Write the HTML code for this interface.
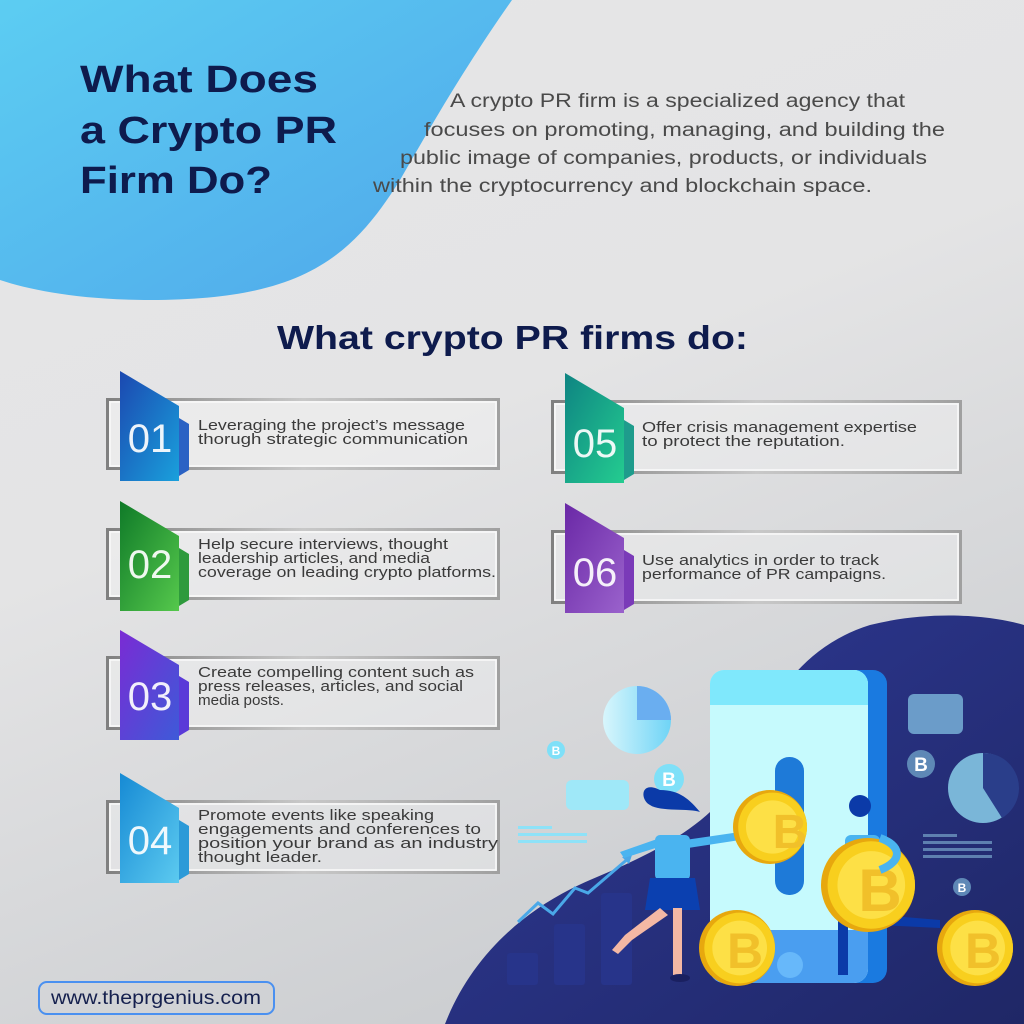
<!DOCTYPE html>
<html><head><meta charset="utf-8"><style>
html,body{margin:0;padding:0;width:1024px;height:1024px;overflow:hidden;}
svg{display:block}
text{font-family:"Liberation Sans",sans-serif}
</style></head><body>
<svg width="1024" height="1024" viewBox="0 0 1024 1024" xmlns="http://www.w3.org/2000/svg">
<defs>
<linearGradient id="bg" x1="0" y1="0" x2="0.4" y2="1">
<stop offset="0" stop-color="#e6e6e7"/><stop offset="0.5" stop-color="#e4e4e5"/><stop offset="1" stop-color="#cdcfd2"/></linearGradient>
<linearGradient id="blob" x1="0" y1="0" x2="1" y2="1">
<stop offset="0" stop-color="#5ccdf2"/><stop offset="1" stop-color="#4fa6ea"/></linearGradient>
<linearGradient id="dark" x1="0" y1="0" x2="1" y2="1">
<stop offset="0" stop-color="#2f3a98"/><stop offset="1" stop-color="#1f2766"/></linearGradient>
<linearGradient id="g1" x1="0" y1="0" x2="1" y2="1"><stop offset="0" stop-color="#1b48b0"/><stop offset="1" stop-color="#1aa0dc"/></linearGradient>
<linearGradient id="g2" x1="0" y1="0" x2="1" y2="1"><stop offset="0" stop-color="#0f7a28"/><stop offset="1" stop-color="#55c84c"/></linearGradient>
<linearGradient id="g3" x1="0" y1="0" x2="1" y2="1"><stop offset="0" stop-color="#7a2bd4"/><stop offset="1" stop-color="#3e5ad8"/></linearGradient>
<linearGradient id="g4" x1="0" y1="0" x2="1" y2="1"><stop offset="0" stop-color="#168ad4"/><stop offset="1" stop-color="#5ccaf0"/></linearGradient>
<linearGradient id="g5" x1="0" y1="0" x2="1" y2="1"><stop offset="0" stop-color="#0e8482"/><stop offset="1" stop-color="#24cc90"/></linearGradient>
<linearGradient id="g6" x1="0" y1="0" x2="1" y2="1"><stop offset="0" stop-color="#6a28a6"/><stop offset="1" stop-color="#9a62cc"/></linearGradient>
<linearGradient id="frame" x1="0" y1="0" x2="1" y2="0"><stop offset="0" stop-color="#808080"/><stop offset="0.5" stop-color="#c8c8c8"/><stop offset="1" stop-color="#a0a0a0"/></linearGradient>
<linearGradient id="pie" x1="0" y1="0" x2="1" y2="0"><stop offset="0" stop-color="#d8f6fc"/><stop offset="1" stop-color="#6fd4f6"/></linearGradient>
<g id="coin"><circle r="1" fill="#e7a80e"/><circle cx="0.07" r="0.93" fill="#f8cf1e"/><circle cx="0.07" r="0.72" fill="#fde046"/></g>
</defs>
<rect width="1024" height="1024" fill="url(#bg)"/>
<path d="M0 0 H512 C470 60 440 110 400 180 C350 260 300 300 150 300 C80 300 30 290 0 280 Z" fill="url(#blob)"/>

<g font-size="38" font-weight="bold" fill="#0e1b4d">
<text x="80" y="92" textLength="238" lengthAdjust="spacingAndGlyphs">What Does</text>
<text x="80" y="143" textLength="257" lengthAdjust="spacingAndGlyphs">a Crypto PR</text>
<text x="80" y="193" textLength="192" lengthAdjust="spacingAndGlyphs">Firm Do?</text>
</g>

<g font-size="19" fill="#4a4a4a">
<text x="450" y="107" textLength="455" lengthAdjust="spacingAndGlyphs">A crypto PR firm is a specialized agency that</text>
<text x="424" y="136" textLength="521" lengthAdjust="spacingAndGlyphs">focuses on promoting, managing, and building the</text>
<text x="400" y="164" textLength="527" lengthAdjust="spacingAndGlyphs">public image of companies, products, or individuals</text>
<text x="373" y="192" textLength="499" lengthAdjust="spacingAndGlyphs">within the cryptocurrency and blockchain space.</text>
</g>

<text x="277" y="349" font-size="33" font-weight="bold" fill="#0e1b4d" textLength="471" lengthAdjust="spacingAndGlyphs">What crypto PR firms do:</text>

<path d="M445 1024 C470 960 520 910 590 880 C650 855 700 830 730 790 C760 720 790 650 870 625 C930 610 990 615 1024 625 V1024 Z" fill="url(#dark)"/>

<g font-size="15" fill="#3a3a3a">
<g transform="translate(106,398)">
<rect x="1.5" y="1.5" width="391" height="69" fill="rgba(255,255,255,0.25)" stroke="url(#frame)" stroke-width="3"/>
<rect x="4" y="4" width="386" height="64" fill="none" stroke="#fafafa" stroke-width="1.5"/>
<polygon points="73,20 83,26 83,72 73,78" fill="#2a62c4"/>
<polygon points="14,-27 73,8 73,83 14,83" fill="url(#g1)"/>
<text x="44" y="54" font-size="40" fill="#fff" text-anchor="middle" opacity="0.92">01</text>
<text x="92" y="32" textLength="267" lengthAdjust="spacingAndGlyphs">Leveraging the project’s message</text><text x="92" y="46" textLength="270" lengthAdjust="spacingAndGlyphs">thorugh strategic communication</text>
</g>
<g transform="translate(106,528)">
<rect x="1.5" y="1.5" width="391" height="69" fill="rgba(255,255,255,0.25)" stroke="url(#frame)" stroke-width="3"/>
<rect x="4" y="4" width="386" height="64" fill="none" stroke="#fafafa" stroke-width="1.5"/>
<polygon points="73,20 83,26 83,72 73,78" fill="#2e9a3c"/>
<polygon points="14,-27 73,8 73,83 14,83" fill="url(#g2)"/>
<text x="44" y="50" font-size="40" fill="#fff" text-anchor="middle" opacity="0.92">02</text>
<text x="92" y="21" textLength="250" lengthAdjust="spacingAndGlyphs">Help secure interviews, thought</text><text x="92" y="35" textLength="232" lengthAdjust="spacingAndGlyphs">leadership articles, and media</text><text x="92" y="49" textLength="298" lengthAdjust="spacingAndGlyphs">coverage on leading crypto platforms.</text>
</g>
<g transform="translate(106,656)">
<rect x="1.5" y="1.5" width="391" height="71" fill="rgba(255,255,255,0.25)" stroke="url(#frame)" stroke-width="3"/>
<rect x="4" y="4" width="386" height="66" fill="none" stroke="#fafafa" stroke-width="1.5"/>
<polygon points="73,20 83,26 83,74 73,80" fill="#5a3ad8"/>
<polygon points="14,-26 73,9 73,84 14,84" fill="url(#g3)"/>
<text x="44" y="54" font-size="40" fill="#fff" text-anchor="middle" opacity="0.92">03</text>
<text x="92" y="21" textLength="276" lengthAdjust="spacingAndGlyphs">Create compelling content such as</text><text x="92" y="35" textLength="265" lengthAdjust="spacingAndGlyphs">press releases, articles, and social</text><text x="92" y="49" textLength="86" lengthAdjust="spacingAndGlyphs">media posts.</text>
</g>
<g transform="translate(106,800)">
<rect x="1.5" y="1.5" width="391" height="71" fill="rgba(255,255,255,0.25)" stroke="url(#frame)" stroke-width="3"/>
<rect x="4" y="4" width="386" height="66" fill="none" stroke="#fafafa" stroke-width="1.5"/>
<polygon points="73,20 83,26 83,74 73,80" fill="#2c9ad8"/>
<polygon points="14,-27 73,8 73,83 14,83" fill="url(#g4)"/>
<text x="44" y="54" font-size="40" fill="#fff" text-anchor="middle" opacity="0.92">04</text>
<text x="92" y="20" textLength="236" lengthAdjust="spacingAndGlyphs">Promote events like speaking</text><text x="92" y="34" textLength="283" lengthAdjust="spacingAndGlyphs">engagements and conferences to</text><text x="92" y="48" textLength="300" lengthAdjust="spacingAndGlyphs">position your brand as an industry</text><text x="92" y="62" textLength="124" lengthAdjust="spacingAndGlyphs">thought leader.</text>
</g>
<g transform="translate(551,400)">
<rect x="1.5" y="1.5" width="408" height="71" fill="rgba(255,255,255,0.25)" stroke="url(#frame)" stroke-width="3"/>
<rect x="4" y="4" width="403" height="66" fill="none" stroke="#fafafa" stroke-width="1.5"/>
<polygon points="73,20 83,26 83,74 73,80" fill="#1e9c8c"/>
<polygon points="14,-27 73,8 73,83 14,83" fill="url(#g5)"/>
<text x="44" y="57" font-size="40" fill="#fff" text-anchor="middle" opacity="0.92">05</text>
<text x="91" y="32" textLength="275" lengthAdjust="spacingAndGlyphs">Offer crisis management expertise</text><text x="91" y="46" textLength="203" lengthAdjust="spacingAndGlyphs">to protect the reputation.</text>
</g>
<g transform="translate(551,530)">
<rect x="1.5" y="1.5" width="408" height="71" fill="rgba(255,255,255,0.25)" stroke="url(#frame)" stroke-width="3"/>
<rect x="4" y="4" width="403" height="66" fill="none" stroke="#fafafa" stroke-width="1.5"/>
<polygon points="73,20 83,26 83,74 73,80" fill="#7a3ab8"/>
<polygon points="14,-27 73,8 73,83 14,83" fill="url(#g6)"/>
<text x="44" y="56" font-size="40" fill="#fff" text-anchor="middle" opacity="0.92">06</text>
<text x="91" y="35" textLength="237" lengthAdjust="spacingAndGlyphs">Use analytics in order to track</text><text x="91" y="49" textLength="244" lengthAdjust="spacingAndGlyphs">performance of PR campaigns.</text>
</g>
</g>

<g>
<rect x="507" y="953" width="31" height="32" rx="3" fill="#27348a"/>
<rect x="554" y="924" width="31" height="61" rx="3" fill="#27348a"/>
<rect x="601" y="893" width="31" height="92" rx="3" fill="#27348a"/>
<polyline points="518,922 538,903 553,914 575,888 588,893 630,857" fill="none" stroke="#4aa8e8" stroke-width="3"/>
<polygon points="632,855 622,857 629,864" fill="#4aa8e8"/>
<circle cx="637" cy="720" r="34" fill="url(#pie)"/>
<path d="M637 720 V686 A34 34 0 0 1 671 720 Z" fill="#6aaef0"/>
<circle cx="556" cy="750" r="9" fill="#7fe0f8"/><text x="556" y="755" font-size="12" font-weight="bold" fill="#fff" text-anchor="middle">B</text>
<circle cx="669" cy="779" r="15" fill="#7fe0f8"/><text x="669" y="786" font-size="19" font-weight="bold" fill="#fff" text-anchor="middle">B</text>
<rect x="566" y="780" width="63" height="30" rx="6" fill="#9fe8f8"/>
<rect x="518" y="826" width="34" height="3" fill="#8ee2f8"/>
<rect x="518" y="833" width="69" height="3" fill="#8ee2f8"/>
<rect x="518" y="840" width="69" height="3" fill="#8ee2f8"/>
<rect x="908" y="694" width="55" height="40" rx="6" fill="#6b9cc9"/>
<circle cx="921" cy="764" r="14" fill="#5e88b6"/><text x="921" y="771" font-size="19" font-weight="bold" fill="#fff" text-anchor="middle">B</text>
<circle cx="983" cy="788" r="35" fill="#7ab6d8"/>
<path d="M983 788 V753 A35 35 0 0 1 1002 818 Z" fill="#2a3e8a"/>
<rect x="923" y="834" width="34" height="3" fill="#5e80b0"/>
<rect x="923" y="841" width="69" height="3" fill="#5e80b0"/>
<rect x="923" y="848" width="69" height="3" fill="#5e80b0"/>
<rect x="923" y="855" width="69" height="3" fill="#5e80b0"/>
<circle cx="962" cy="887" r="9" fill="#5e88b6"/><text x="962" y="892" font-size="12" font-weight="bold" fill="#fff" text-anchor="middle">B</text>
<rect x="730" y="670" width="157" height="313" rx="14" fill="#1a7ae0"/>
<rect x="710" y="670" width="158" height="313" rx="14" fill="#c6fafd"/>
<path d="M724 670 H854 A14 14 0 0 1 868 684 V705 H710 V684 A14 14 0 0 1 724 670 Z" fill="#7fe8fc"/>
<path d="M710 930 H868 V969 A14 14 0 0 1 854 983 H724 A14 14 0 0 1 710 969 Z" fill="#4a9ef0"/>
<circle cx="790" cy="965" r="13" fill="#67b8fa"/>
<rect x="775" y="757" width="29" height="138" rx="14" fill="#1e7ad8"/>
<path d="M660 790 C640 780 640 800 650 805 C660 812 690 808 700 812 C690 800 680 790 660 790Z" fill="#0b3aa8"/>
<rect x="655" y="835" width="35" height="45" rx="5" fill="#4ab4f0"/>
<path d="M650 878 H695 L700 910 H645 Z" fill="#0b40b0"/>
<path d="M660 908 L625 935 L612 950 L618 954 L632 940 L668 915 Z" fill="#f4b8a4"/>
<rect x="673" y="908" width="9" height="70" fill="#f4b8a4"/>
<path d="M620 852 L660 838 L662 846 L624 858 Z" fill="#4ab4f0"/>
<path d="M685 840 L740 832 L740 840 L688 848 Z" fill="#4ab4f0"/>
<ellipse cx="680" cy="978" rx="10" ry="4" fill="#1a2060"/>
<g transform="translate(770,827) scale(37)"><use href="#coin"/></g>
<text x="790" y="848" font-size="48" font-weight="bold" fill="#f1c02a" text-anchor="middle">B</text>
<circle cx="860" cy="806" r="11" fill="#0b3aa8"/>
<rect x="845" y="835" width="35" height="25" rx="6" fill="#4ab4f0"/>
<path d="M838 915 V975 H848 V915 Z M880 915 L940 920 V928 L880 925 Z" fill="#0b3aa8"/>
<g transform="translate(868,885) scale(47)"><use href="#coin"/></g>
<text x="880" y="911" font-size="60" font-weight="bold" fill="#f1c02a" text-anchor="middle">B</text>
<path d="M880 838 C900 845 905 860 880 870" fill="none" stroke="#4ab4f0" stroke-width="8"/>
<g transform="translate(737,948) scale(38)"><use href="#coin"/></g>
<text x="745" y="968" font-size="50" font-weight="bold" fill="#f1c02a" text-anchor="middle">B</text>
<g transform="translate(975,948) scale(38)"><use href="#coin"/></g>
<text x="983" y="968" font-size="50" font-weight="bold" fill="#f1c02a" text-anchor="middle">B</text>
</g>

<rect x="39" y="982" width="235" height="32" rx="8" fill="none" stroke="#4a90f0" stroke-width="2"/>
<text x="156" y="1004" font-size="19" fill="#15204e" text-anchor="middle" textLength="210" lengthAdjust="spacingAndGlyphs">www.theprgenius.com</text>
</svg>
</body></html>
